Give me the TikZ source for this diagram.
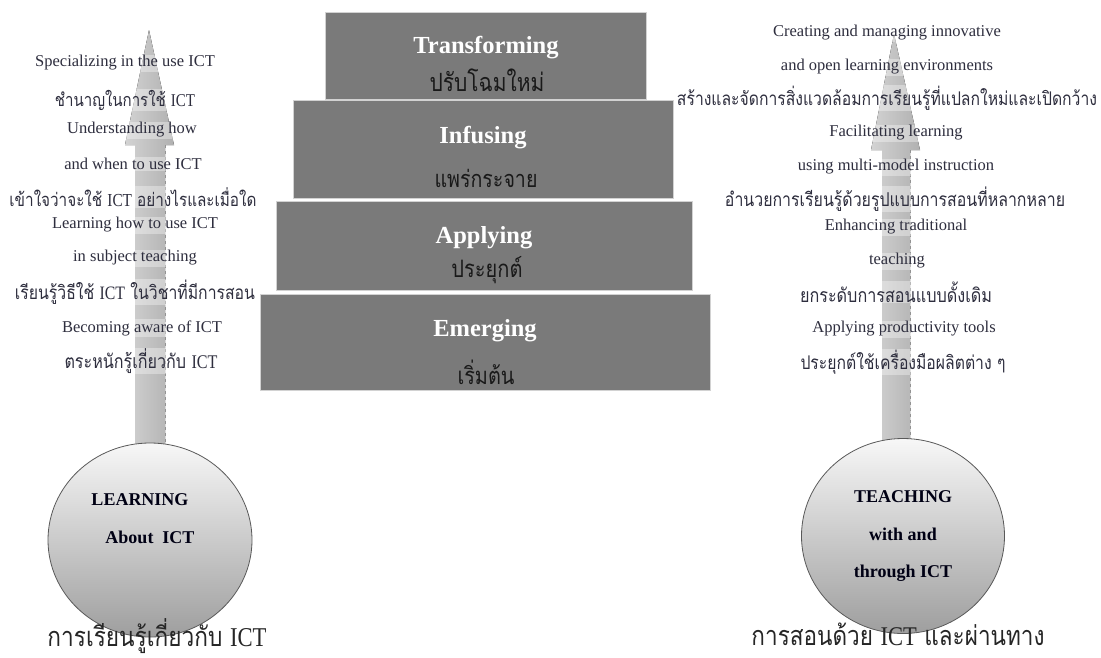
\documentclass[tikz,border=0pt]{standalone}
\usepackage{fontspec}
\usetikzlibrary{shapes.geometric}
\setmainfont{Liberation Serif}
\newfontfamily\thaifont[Script=Thai]{Loma}
\newcommand\thw[2]{\scalebox{1}[1.2]{\resizebox{#1}{!}{#2}}}
\definecolor{txt}{HTML}{2E2E3E}
\definecolor{boxgray}{HTML}{7A7A7A}
\definecolor{arrowgray}{HTML}{C8C8C8}
\begin{document}
\begin{tikzpicture}[x=1pt,y=-1pt,
  lbl/.style={font=\fontsize{16.5}{18}\selectfont, text=txt, fill=white, fill opacity=0.35, text opacity=1, inner sep=1pt},
  stepbox/.style={draw=gray!35, line width=0.8pt, fill=boxgray, inner sep=0pt},
  stepen/.style={font=\bfseries\fontsize{24.5}{26}\selectfont, text=white},
  stepth/.style={text=black!90, inner sep=0pt},
  circ/.style={ellipse, draw=gray!70!black, line width=0.8pt, top color=white!97!black, bottom color=black!38, inner sep=0pt},
  circtxt/.style={font=\bfseries\fontsize{18}{20}\selectfont, text=black!80!blue!40!black},
  bottomlbl/.style={text=black!85, inner sep=0pt},
  arrowbody/.style={left color=arrowgray!80, right color=arrowgray!88!black, draw=none}
]
\useasboundingbox (0,0) rectangle (1101,657);
\fill[white] (0,0) rectangle (1101,657);

% ---------- arrows ----------
\coordinate (Ltip) at (149,30);
\coordinate (Rtip) at (894,34);
\fill[arrowbody] (Ltip) -- (174,145) -- (165,145) -- (165,470) -- (135,470) -- (135,145) -- (125,145) -- cycle;
\draw[gray!85, dashed, line width=0.6pt] (165,145) -- (165,460);
\fill[arrowbody] (Rtip) -- (920,150) -- (910,150) -- (910,470) -- (882,470) -- (882,150) -- (871,150) -- cycle;
\draw[gray!85, dashed, line width=0.6pt] (910,150) -- (910,460);

% ---------- steps ----------
\node[stepbox, minimum width=321pt, minimum height=87pt] (tr) at (485.5,55.5) {};
\node[stepbox, minimum width=380pt, minimum height=98pt] (inf) at (483,149) {};
\node[stepbox, minimum width=416pt, minimum height=89pt] (app) at (484,245.5) {};
\node[stepbox, minimum width=450pt, minimum height=96pt] (eme) at (485,342) {};

\node[stepen] (trE) at (486,48) {Transforming};
\node[stepth] (trT) at (487,80) {\thw{115pt}{\thaifont ปรับโฉมใหม่}};
\node[stepen] (infE) at (483,138) {Infusing};
\node[stepth] (infT) at (486,178) {\thw{103pt}{\thaifont แพร่กระจาย}};
\node[stepen] (appE) at (484,238) {Applying};
\node[stepth] (appT) at (487,270) {\thw{71pt}{\thaifont ประยุกต์}};
\node[stepen] (emeE) at (485,331) {Emerging};
\node[stepth] (emeT) at (486,372) {\thw{57pt}{\thaifont เริ่มต้น}};

% ---------- left labels ----------
\node[lbl] (l1) at (125,63) {Specializing in the use ICT};
\node[lbl] (l2) at (125,100) {\thw{140pt}{\thaifont ชำนาญในการใช้ {\rmfamily ICT}}};
\node[lbl] (l3) at (132,130) {Understanding how};
\node[lbl] (l4) at (133,164) {and when to use ICT};
\node[lbl] (l5) at (133,197) {\thw{247pt}{\thaifont เข้าใจว่าจะใช้ {\rmfamily ICT} อย่างไรและเมื่อใด}};
\node[lbl] (l6) at (135,225) {Learning how to use ICT};
\node[lbl] (l7) at (135,258) {in subject teaching};
\node[lbl] (l8) at (135,292) {\thw{240pt}{\thaifont เรียนรู้วิธีใช้ {\rmfamily ICT} ในวิชาที่มีการสอน}};
\node[lbl] (l9) at (142,328) {Becoming aware of ICT};
\node[lbl] (l10) at (141,361) {\thw{153pt}{\thaifont ตระหนักรู้เกี่ยวกับ {\rmfamily ICT}}};

% ---------- right labels ----------
\node[lbl] (r1) at (887,33) {Creating and managing innovative};
\node[lbl] (r2) at (887,67) {and open learning environments};
\node[lbl] (r3) at (887,98) {\thw{420pt}{\thaifont สร้างและจัดการสิ่งแวดล้อมการเรียนรู้ที่แปลกใหม่และเปิดกว้าง}};
\node[lbl] (r4) at (896,133) {Facilitating learning};
\node[lbl] (r5) at (896,167) {using multi-model instruction};
\node[lbl] (r6) at (895,199) {\thw{340pt}{\thaifont อำนวยการเรียนรู้ด้วยรูปแบบการสอนที่หลากหลาย}};
\node[lbl] (r7) at (896,227) {Enhancing traditional};
\node[lbl] (r8) at (897,261) {teaching};
\node[lbl] (r9) at (896,292) {\thw{192pt}{\thaifont ยกระดับการสอนแบบดั้งเดิม}};
\node[lbl] (r10) at (904,329) {Applying productivity tools};
\node[lbl] (r11) at (903,362) {\thw{205pt}{\thaifont ประยุกต์ใช้เครื่องมือผลิตต่าง ๆ}};

% ---------- circles ----------
\node[circ, minimum width=204pt, minimum height=194pt] (learn) at (150,540) {};
\node[circtxt] (learn1) at (140,500) {LEARNING};
\node[circtxt] (learn2) at (150,537) {About\ \ ICT};
\node[circ, minimum width=203pt, minimum height=195pt] (teach) at (903,536) {};
\node[circtxt] (teach1) at (903,497) {TEACHING};
\node[circtxt] (teach2) at (903,534) {with and};
\node[circtxt] (teach3) at (903,573) {through ICT};

\node[bottomlbl] (learnT) at (157,636) {\thw{219pt}{\thaifont การเรียนรู้เกี่ยวกับ {\rmfamily ICT}}};
\node[bottomlbl] (teachT) at (898,634) {\thw{293pt}{\thaifont การสอนด้วย {\rmfamily ICT} และผ่านทาง}};
\end{tikzpicture}
\end{document}
